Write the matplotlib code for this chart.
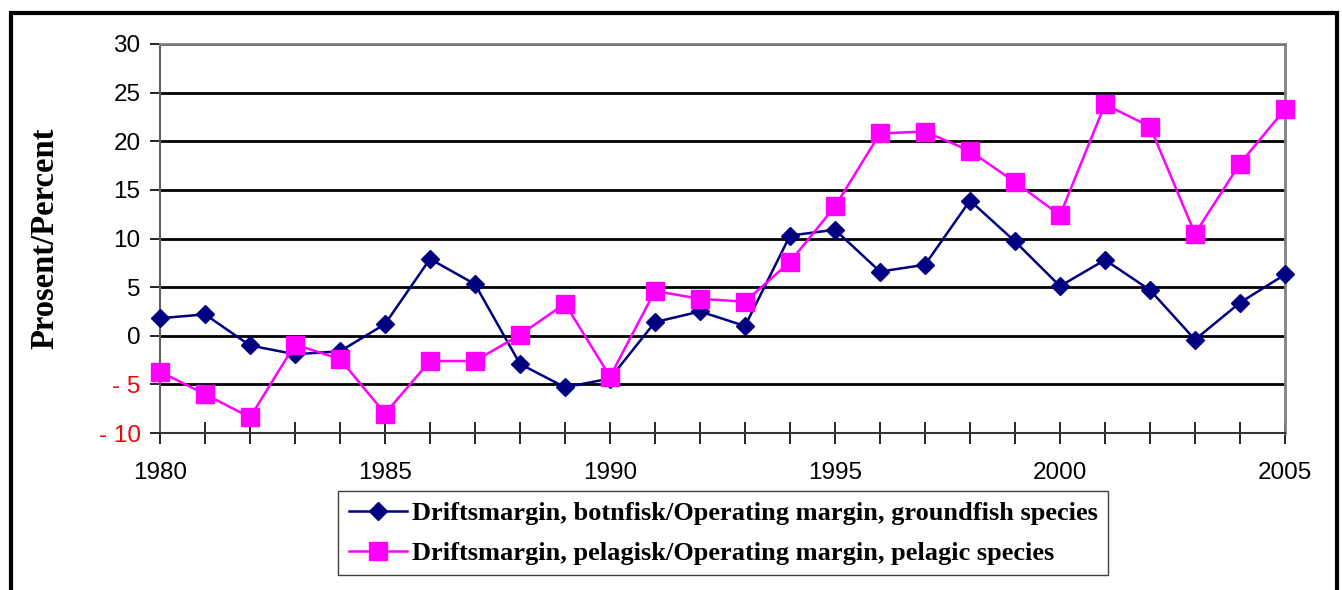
import matplotlib
matplotlib.use("Agg")
import matplotlib.pyplot as plt
from matplotlib.patches import Rectangle
from matplotlib.ticker import MultipleLocator

years = list(range(1980, 2006))
groundfish = [1.8, 2.2, -1.0, -1.9, -1.6, 1.2, 7.9, 5.3, -2.9, -5.3, -4.4, 1.4, 2.5,
              1.0, 10.3, 10.9, 6.6, 7.3, 13.9, 9.7, 5.1, 7.8, 4.7, -0.4, 3.4, 6.3]
pelagic = [-3.7, -6.0, -8.4, -0.9, -2.4, -8.0, -2.6, -2.6, 0.1, 3.3, -4.2, 4.6, 3.8,
           3.5, 7.6, 13.3, 20.8, 21.0, 19.0, 15.8, 12.4, 23.8, 21.5, 10.5, 17.7, 23.3]
label_ground = "Driftsmargin, botnfisk/Operating margin, groundfish species"
label_pelagic = "Driftsmargin, pelagisk/Operating margin, pelagic species"
y_ticks = [-10, -5, 0, 5, 10, 15, 20, 25, 30]
y_ticklabels = ["- 10", "- 5", "0", "5", "10", "15", "20", "25", "30"]
x_ticks = [1980, 1985, 1990, 1995, 2000, 2005]
ylabel = "Prosent/Percent"

W, H = 1342, 590
fig = plt.figure(figsize=(W / 100, H / 100), dpi=100)
ax = fig.add_axes([160 / W, 1 - 433 / H, (1285 - 160) / W, (433 - 44) / H])

ax.plot(years, groundfish, color="#000080", lw=1.8, marker="D", ms=9.5,
        label=label_ground, zorder=3, clip_on=False)
ax.plot(years, pelagic, color="#FF00FF", lw=1.8, marker="s", ms=13,
        label=label_pelagic, zorder=4, clip_on=False)

ax.set_xlim(1980, 2005)
ax.set_ylim(-10, 30)
ax.set_yticks(y_ticks)
ax.set_yticklabels(y_ticklabels, fontsize=17.5, family="Liberation Sans")
for t, v in zip(ax.get_yticklabels(), y_ticks):
    t.set_color("red" if v < 0 else "black")
ax.set_xticks(x_ticks)
ax.set_xticklabels([str(x) for x in x_ticks], fontsize=17.5, family="Liberation Sans")
ax.xaxis.set_minor_locator(MultipleLocator(1))
ax.tick_params(axis="x", which="both", direction="inout", length=16, width=1.2, pad=13)
ax.tick_params(axis="y", direction="out", length=7, width=1.2, pad=7)

ax.yaxis.grid(True, color="black", lw=2.0, zorder=1)
ax.set_axisbelow(True)
for s in ["top", "right"]:
    ax.spines[s].set_color("#808080")
    ax.spines[s].set_linewidth(2)
ax.spines["bottom"].set_color("#333333")
ax.spines["bottom"].set_linewidth(1.5)
ax.spines["left"].set_color("#606060")
ax.spines["left"].set_linewidth(1.5)

ax.set_ylabel(ylabel, fontsize=23.5, fontweight="bold", family="Liberation Serif")
ax.yaxis.set_label_coords(-(160 - 45) / (1285 - 160), 0.5)
ax.yaxis.label.set_va("center")

leg = fig.legend(loc="upper left", bbox_to_anchor=(338 / W, 1 - 491 / H),
                 prop={"family": "Liberation Serif", "weight": "bold", "size": 19},
                 frameon=True, fancybox=False, edgecolor="#404040", framealpha=1,
                 handlelength=2.2, handletextpad=0.2, labelspacing=0.62,
                 borderpad=0.4, borderaxespad=0)
leg.get_frame().set_linewidth(1.0)

frame = Rectangle((10.5 / W, -0.1), (1337 - 10.5) / W, 1.1 - 13 / H,
                  transform=fig.transFigure, fill=False, edgecolor="black", lw=3)
fig.patches.append(frame)

fig.savefig("out.png", dpi=100)
